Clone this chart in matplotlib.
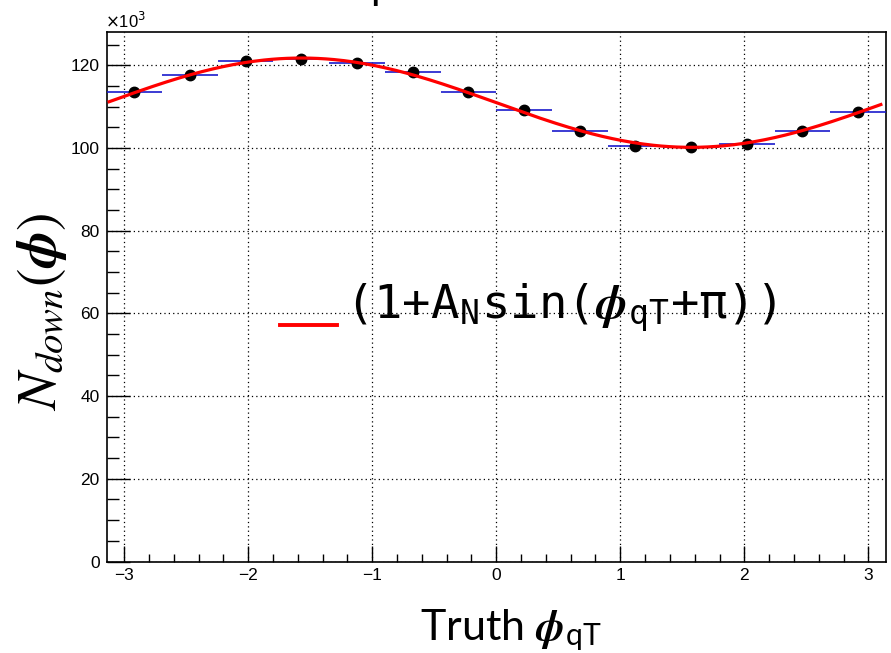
import numpy as np
import matplotlib
matplotlib.use("Agg")
import matplotlib.pyplot as plt
from matplotlib.ticker import MultipleLocator

# bin centres of the truth phi_qT histogram (14 bins over [-pi, pi])
phi_centers = [-2.917, -2.468, -2.020, -1.571, -1.122, -0.673, -0.224,
               0.224, 0.673, 1.122, 1.571, 2.020, 2.468, 2.917]
half_width = 0.2244
# counts per bin, in units of 10^3
n_down = [113.5, 117.6, 121.0, 121.5, 120.7, 118.4, 113.5,
          109.2, 104.1, 100.6, 100.3, 101.0, 104.1, 108.8]
n_err = [0.34, 0.34, 0.35, 0.35, 0.35, 0.34, 0.34,
         0.33, 0.32, 0.32, 0.32, 0.32, 0.32, 0.33]

# fit result for p0*(1+A_N*sin(phi+pi))
p0 = 111.0
a_n = 0.0973

fig = plt.figure(figsize=(8.91, 6.53), dpi=100)
ax = fig.add_axes([106.5 / 891, 1 - 561.5 / 653, (886 - 106.5) / 891, (561.5 - 32) / 653])

ax.errorbar(phi_centers, n_down, xerr=half_width, yerr=n_err, fmt="none",
            ecolor="#1a1acc", elinewidth=1.2, capsize=0, zorder=3)
ax.plot(phi_centers, n_down, "o", color="black", markersize=7.5, zorder=4)

xf = np.linspace(-3.12, 3.10, 300)
ax.plot(xf, p0 * (1 + a_n * np.sin(xf + np.pi)), color="red", lw=2.3, zorder=5)

ax.set_xlim(-np.pi, np.pi)
ax.set_ylim(0, 128.1)
ax.xaxis.set_major_locator(MultipleLocator(1))
ax.xaxis.set_minor_locator(MultipleLocator(0.2))
ax.yaxis.set_major_locator(MultipleLocator(20))
ax.yaxis.set_minor_locator(MultipleLocator(5))

ax.grid(True, which="major", color="black", linestyle=(0, (1, 2.5)), linewidth=0.9)
ax.set_axisbelow(True)
for s in ax.spines.values():
    s.set_linewidth(1.2)

ax.tick_params(axis="both", which="both", direction="in", width=1.0,
               labelsize=12.5, top=False, right=False)
ax.tick_params(axis="y", which="major", length=16.5, pad=5)
ax.tick_params(axis="y", which="minor", length=8.5)
ax.tick_params(axis="x", which="major", length=11.5, pad=5)
ax.tick_params(axis="x", which="minor", length=6)
ax.set_xticks([-3, -2, -1, 0, 1, 2, 3])
ax.set_xticklabels(["\u22123", "\u22122", "\u22121", "0", "1", "2", "3"], family="Liberation Sans")
for lab in ax.get_yticklabels():
    lab.set_family("Liberation Sans")

fig.text(105 / 891, 1 - 28 / 653, r"$\times$10$^{3}$", fontsize=12,
         family="Liberation Sans", ha="left", va="baseline")

# axis titles
fig.text(42 / 891, 1 - 312 / 653, r"$N_{down}(\boldsymbol{\phi})$", rotation=90,
         fontsize=40, math_fontfamily="stix", ha="center", va="center")
fig.text(511 / 891, 1 - 640 / 653, r"Truth $\boldsymbol{\phi}_{\mathregular{qT}}$", fontsize=31,
         family="Lato", math_fontfamily="stix", ha="center", va="baseline")

# legend entry
ax.plot([-np.pi + (280 - 106.5) / 124.06, -np.pi + (337 - 106.5) / 124.06],
        [(561.5 - 325) / 4.132] * 2, color="red", lw=2.8, clip_on=False, zorder=6)
fig.text(345 / 891, 1 - 319 / 653,
         r"(1+A$_{\mathregular{N}}$sin($\boldsymbol{\phi}_{\mathregular{qT}}$+π))",
         fontsize=34, family="DejaVu Sans Mono", math_fontfamily="stix",
         ha="left", va="baseline")

# plot title, clipped at the top edge
fig.text(371 / 891, 1 + 0.5 / 653, "p", fontsize=20, fontweight="bold",
         family="Liberation Sans", ha="left", va="baseline")

fig.savefig("out.png", dpi=100)
